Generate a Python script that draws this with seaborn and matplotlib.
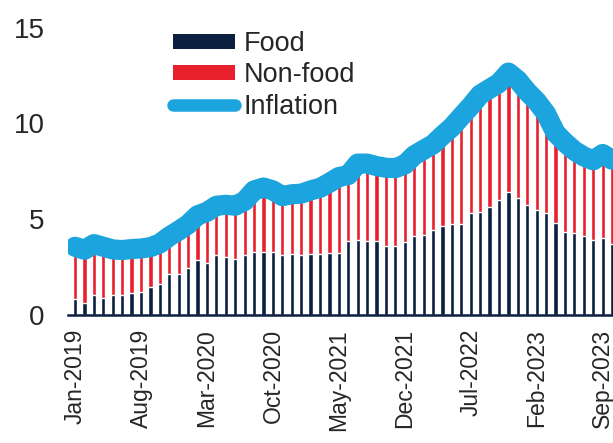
import numpy as np
import pandas as pd
import matplotlib
matplotlib.use("Agg")
import matplotlib.pyplot as plt
from matplotlib.patches import Patch
from matplotlib.lines import Line2D
import seaborn as sns

# ---- data (Jan-2019 .. Oct-2023, monthly) ----
months = list(pd.date_range("2019-01-01", periods=58, freq="MS").strftime("%b-%Y"))

food = [0.85, 0.64, 1.04, 0.87, 1.04, 1.04, 1.14, 1.22, 1.44, 1.62,
        2.14, 2.14, 2.43, 2.86, 2.72, 3.13, 3.04, 2.90, 3.13, 3.30,
        3.30, 3.30, 3.13, 3.20, 3.13, 3.17, 3.20, 3.21, 3.21, 3.85,
        3.90, 3.85, 3.85, 3.59, 3.59, 3.82, 4.11, 4.17, 4.43, 4.64,
        4.77, 4.77, 5.30, 5.38, 5.61, 5.99, 6.42, 6.08, 5.73, 5.50,
        5.30, 4.81, 4.34, 4.30, 4.11, 3.90, 4.00, 3.73]

nonfood = [2.71, 2.76, 2.66, 2.69, 2.38, 2.35, 2.30, 2.25, 2.10, 2.11,
           1.96, 2.26, 2.30, 2.34, 2.66, 2.57, 2.71, 2.80, 2.82, 3.20,
           3.35, 3.20, 3.07, 3.10, 3.20, 3.33, 3.43, 3.69, 3.99, 3.45,
           4.00, 4.05, 3.92, 4.09, 4.07, 4.03, 4.22, 4.45, 4.47, 4.73,
           5.03, 5.59, 5.60, 6.12, 6.19, 6.11, 6.23, 6.17, 5.92, 5.65,
           5.20, 4.69, 4.66, 4.27, 4.16, 4.17, 4.40, 4.37]

inflation = [3.56, 3.40, 3.70, 3.56, 3.42, 3.39, 3.44, 3.47, 3.54, 3.73,
             4.10, 4.40, 4.73, 5.20, 5.38, 5.70, 5.75, 5.70, 5.95, 6.50,
             6.65, 6.50, 6.20, 6.30, 6.33, 6.50, 6.63, 6.90, 7.20, 7.30,
             7.90, 7.90, 7.77, 7.68, 7.66, 7.85, 8.33, 8.62, 8.90, 9.37,
             9.80, 10.36, 10.90, 11.50, 11.80, 12.10, 12.65, 12.25, 11.65, 11.15,
             10.50, 9.50, 9.00, 8.57, 8.27, 8.07, 8.40, 8.10]

tick_labels = ["Jan-2019", "Aug-2019", "Mar-2020", "Oct-2020", "May-2021",
               "Dec-2021", "Jul-2022", "Feb-2023", "Sep-2023"]
y_ticks = [0, 5, 10, 15]

NAVY = "#0b1f40"
RED = "#e8202e"
BLUE = "#1ba4dd"

df = pd.DataFrame({"month": months, "Food": food, "Non-food": nonfood,
                   "Inflation": inflation})
df["total"] = df["Food"] + df["Non-food"]
df["pos"] = np.arange(len(df))

sns.set_style("white")
plt.rcParams["font.family"] = ["Liberation Sans", "DejaVu Sans"]

fig = plt.figure(figsize=(6.13, 4.43), dpi=100)
ax = fig.add_axes([68 / 613, 1 - 315 / 443, (613 - 68) / 613, (315 - 27.5) / 443])

sns.barplot(data=df, x="month", y="total", color=RED, saturation=1,
            width=0.45, ax=ax, order=months)
sns.barplot(data=df, x="month", y="Food", color=NAVY, saturation=1,
            width=0.45, ax=ax, order=months)
sns.lineplot(data=df, x="pos", y="Inflation", color=BLUE, lw=14.5, ax=ax,
             solid_capstyle="round", solid_joinstyle="round")

ax.set_xlim(-0.75, 57.1)
ax.set_ylim(0, 15)
ax.set_yticks(y_ticks)
ax.set_yticklabels([str(v) for v in y_ticks], fontsize=20)
ax.set_xticks(list(range(0, 58, 7))[:len(tick_labels)])
ax.set_xticklabels(tick_labels, rotation=90, fontsize=16.5)
ax.tick_params(axis="y", length=0, pad=17)
ax.tick_params(axis="x", length=0, pad=10)
ax.set_xlabel("")
ax.set_ylabel("")
for s in ["top", "right", "left"]:
    ax.spines[s].set_visible(False)
ax.spines["bottom"].set_color("#0b1f40")
ax.spines["bottom"].set_linewidth(1.8)
ax.spines["bottom"].set_zorder(5)

handles = [Patch(facecolor=NAVY, edgecolor="none"),
           Patch(facecolor=RED, edgecolor="none"),
           Line2D([0], [0], color=BLUE, lw=9, solid_capstyle="round")]
leg = fig.legend(handles, ["Food", "Non-food", "Inflation"],
                 loc="upper left", bbox_to_anchor=(173 / 613, 1 - 31 / 443),
                 frameon=False, fontsize=19.5, borderpad=0, borderaxespad=0,
                 handlelength=2.3, handleheight=0.45, handletextpad=0.3,
                 labelspacing=0.2)

fig.savefig("out.png", dpi=100)
